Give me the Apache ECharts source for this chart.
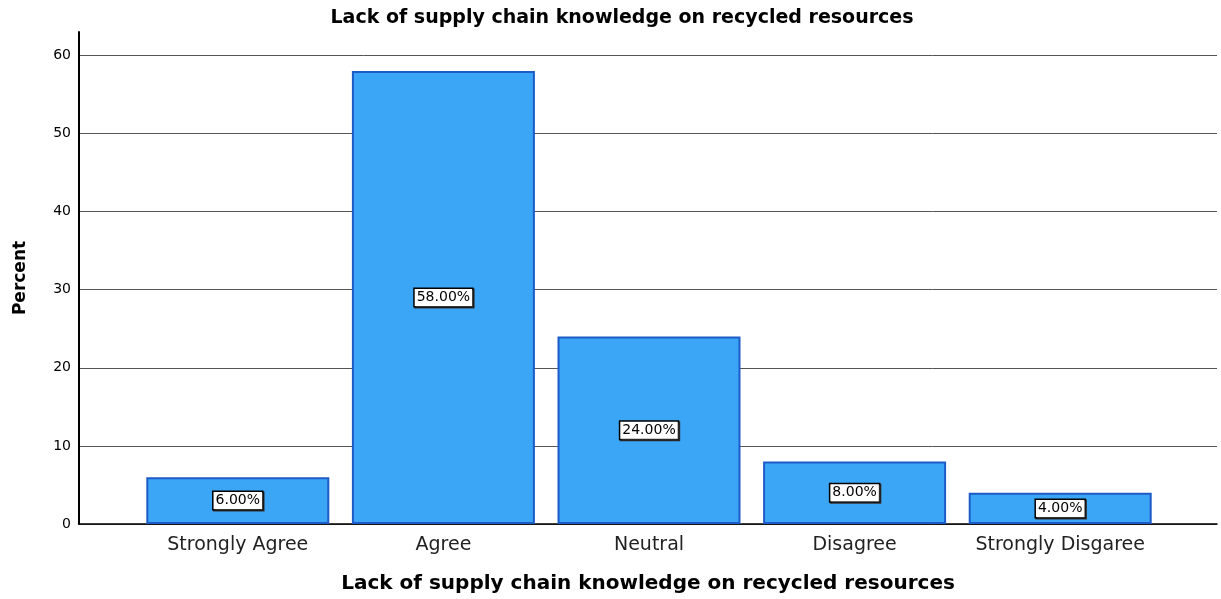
<!DOCTYPE html>
<html>
<head>
<meta charset="utf-8">
<script src="https://cdn.jsdelivr.net/npm/echarts@6/dist/echarts.min.js"></script>
<style>
  html, body { margin: 0; padding: 0; background: #fff; }
  #chart { width: 1221px; height: 599px; }
</style>
</head>
<body>
<div id="chart"></div>
<script>
const categories = ['Strongly Agree', 'Agree', 'Neutral', 'Disagree', 'Strongly Disgaree']
const percents = [6, 58, 24, 8, 4]
const yMax = 63

const font = '"DejaVu Sans", Verdana, sans-serif'

const option = {
  backgroundColor: '#fff',
  animation: false,
  title: {
    text: 'Lack of supply chain knowledge on recycled resources',
    left: 617,
    top: 4,
    textAlign: 'center',
    textStyle: { fontFamily: font, fontSize: 19, fontWeight: 'bold', color: '#000' }
  },
  grid: [
    { left: 79, right: 4, top: 32, bottom: 75, outerBoundsMode: 'none', containLabel: false },
    { left: 135, right: 58, top: 32, bottom: 75, outerBoundsMode: 'none', containLabel: false }
  ],
  xAxis: [
    {
      gridIndex: 0,
      type: 'value',
      min: 0,
      max: 1,
      axisLine: { show: true, lineStyle: { color: '#000', width: 1.5 } },
      axisTick: { show: false },
      axisLabel: { show: false },
      splitLine: { show: false },
      name: 'Lack of supply chain knowledge on recycled resources',
      nameLocation: 'middle',
      nameGap: 50,
      nameTextStyle: { fontFamily: font, fontSize: 20, fontWeight: 'bold', color: '#000' }
    },
    {
      gridIndex: 1,
      type: 'category',
      data: categories,
      axisLine: { show: false },
      axisTick: { show: false },
      axisLabel: { interval: 0, fontFamily: font, fontSize: 19, color: '#222', margin: 12 }
    }
  ],
  yAxis: [
    {
      gridIndex: 0,
      type: 'value',
      min: 0,
      max: yMax,
      interval: 10,
      axisLine: { show: true, lineStyle: { color: '#000', width: 2 } },
      axisTick: { show: false },
      axisLabel: { fontFamily: font, fontSize: 14, color: '#000', margin: 8, showMaxLabel: false },
      splitLine: { show: true, showMaxLine: false, lineStyle: { color: '#555', width: 1 } },
      name: 'Percent',
      nameLocation: 'middle',
      nameGap: 50,
      nameTextStyle: { fontFamily: font, fontSize: 17, fontWeight: 'bold', color: '#000' }
    },
    {
      gridIndex: 1,
      type: 'value',
      min: 0,
      max: yMax,
      show: false,
      splitLine: { show: false }
    }
  ],
  series: [
    {
      type: 'bar',
      xAxisIndex: 1,
      yAxisIndex: 1,
      data: percents,
      barCategoryGap: '11%',
      itemStyle: { color: '#3ca6f6', borderColor: '#1d5cc8', borderWidth: 2 },
      label: {
        show: true,
        position: 'inside',
        formatter: p => p.value.toFixed(2) + '%',
        fontFamily: font,
        fontSize: 14,
        color: '#000',
        backgroundColor: '#fff',
        borderColor: '#000',
        borderWidth: 1.5,
        padding: [2, 2, 1, 2],
        shadowColor: '#333',
        shadowOffsetX: 1,
        shadowOffsetY: 1
      }
    }
  ]
}

echarts.init(document.getElementById('chart')).setOption(option)
</script>
</body>
</html>
